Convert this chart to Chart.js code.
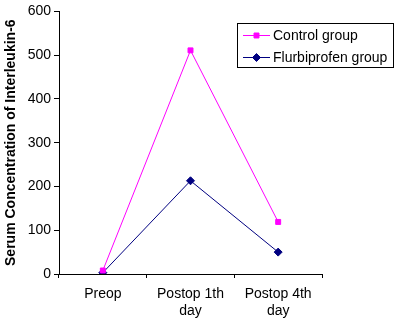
<!DOCTYPE html>
<html><head><meta charset="utf-8">
<script src="https://cdn.jsdelivr.net/npm/chart.js@4"></script>
<style>html,body{margin:0;padding:0;background:#fff}#w{width:398px;height:323px}</style>
</head><body><div id="w"><canvas id="c" width="398" height="323"></canvas></div>
<script>
const categories = [["Preop"], ["Postop 1th", "day"], ["Postop 4th", "day"]];
const controlValues = [8, 511, 119];
const flurbiprofenValues = [3, 213, 50];
const yTicks = [0, 100, 200, 300, 400, 500, 600];
const seriesNames = ["Control group", "Flurbiprofen group"];

const FONT = "'Liberation Sans', Arial, sans-serif";

const legendPlugin = {
  id: 'boxLegend',
  afterDraw(chart) {
    const ctx = chart.ctx;
    const x0 = 237.5, y0 = 23.5, w = 156, h = 44;
    ctx.save();
    ctx.strokeStyle = '#000'; ctx.lineWidth = 1;
    ctx.strokeRect(x0, y0, w, h);
    ctx.font = '14px ' + FONT;
    ctx.textBaseline = 'middle';
    chart.data.datasets.forEach((ds, i) => {
      const y = 35 + i * 22;
      ctx.strokeStyle = ds.borderColor; ctx.lineWidth = 1;
      ctx.beginPath(); ctx.moveTo(243, y + 0.5); ctx.lineTo(270, y + 0.5); ctx.stroke();
      ctx.fillStyle = ds.pointBackgroundColor;
      ctx.strokeStyle = ds.pointBorderColor;
      Chart.helpers.drawPoint(ctx, {pointStyle: ds.pointStyle, radius: ds.pointRadius, borderWidth: 1}, 256.5, y + 0.5);
      ctx.fillStyle = '#000';
      ctx.fillText(ds.label, 273, y + 1);
    });
    ctx.restore();
  }
};

new Chart(document.getElementById('c'), {
  type: 'line',
  data: {
    labels: categories,
    datasets: [
      {label: seriesNames[0], data: controlValues, borderColor: '#FF00FF', backgroundColor: '#FF00FF',
       pointBackgroundColor: '#FF00FF', pointBorderColor: '#FF00FF', pointStyle: 'rect', pointRadius: 3.5, borderWidth: 1, tension: 0},
      {label: seriesNames[1], data: flurbiprofenValues, borderColor: '#000080', backgroundColor: '#000080',
       pointBackgroundColor: '#000080', pointBorderColor: '#000080', pointStyle: 'rectRot', pointRadius: 4, borderWidth: 1, tension: 0}
    ]
  },
  options: {
    responsive: false, animation: false,
    devicePixelRatio: 1,
    layout: {padding: {top: 11, right: 76, bottom: 0, left: 0}},
    plugins: {legend: {display: false}, tooltip: {enabled: false}},
    scales: {
      x: {
        offset: true,
        grid: {offset: true, drawOnChartArea: false, tickLength: 4, color: '#000'},
        border: {display: true, color: '#000', width: 1},
        ticks: {color: '#000', font: {family: FONT, size: 14, lineHeight: 1.25}, padding: 7, maxRotation: 0, autoSkip: false},
        afterFit(s) { s.height = 49; }
      },
      y: {
        min: 0, max: 600,
        afterBuildTicks(s) { s.ticks = yTicks.map(v => ({value: v})); },
        grid: {drawOnChartArea: false, tickLength: 5, color: '#000'},
        border: {display: true, color: '#000', width: 1},
        ticks: {color: '#000', font: {family: FONT, size: 14}, padding: 3},
        title: {display: true, text: 'Serum Concentration of Interleukin-6', color: '#000',
                font: {family: FONT, size: 14, weight: 'bold'}, padding: {top: 3, bottom: 0}},
        afterFit(s) { s.width = 59; }
      }
    }
  },
  plugins: [legendPlugin]
});
</script></body></html>
